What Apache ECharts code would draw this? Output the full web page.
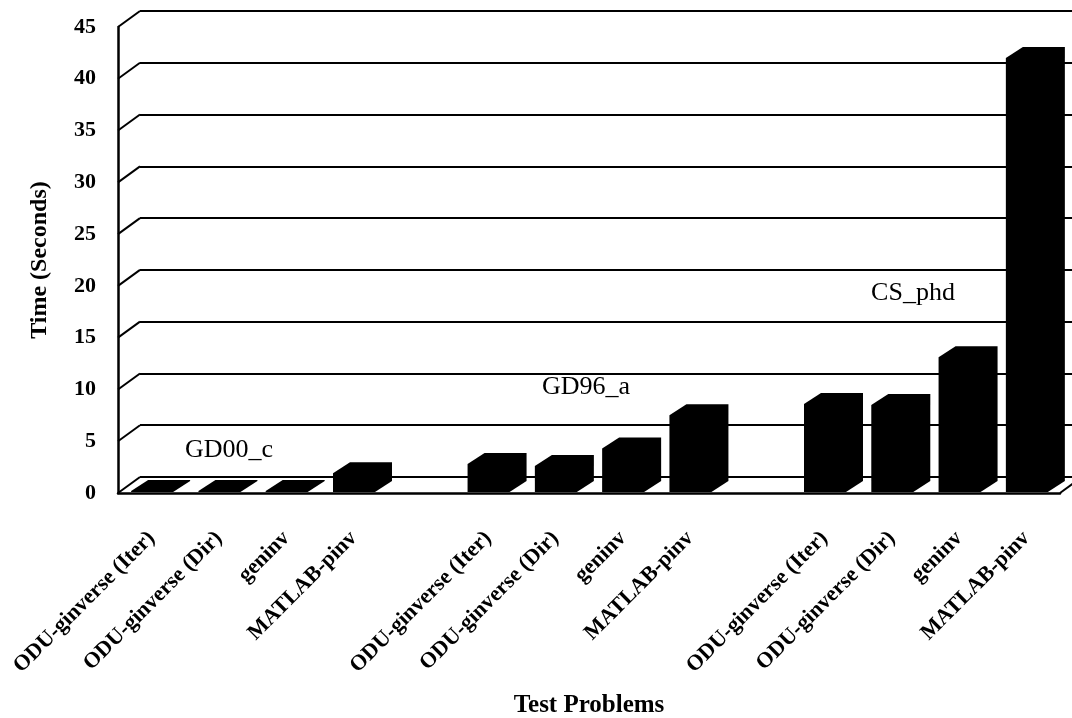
<!DOCTYPE html>
<html>
<head>
<meta charset="utf-8">
<title>Test Problems - Time (Seconds)</title>
<script src="https://cdn.jsdelivr.net/npm/echarts@6/dist/echarts.min.js"></script>
<style>
  html, body { margin: 0; padding: 0; background: #fff; }
  #chart { width: 1072px; height: 718px; }
</style>
</head>
<body>
<div id="chart"></div>
<script>
// Methods compared on each test problem
const methods = ['ODU-ginverse (Iter)', 'ODU-ginverse (Dir)', 'geninv', 'MATLAB-pinv'];
// Test problems, in plotting order
const problems = ['GD00_c', 'GD96_a', 'CS_phd'];
// Run times in seconds, one value per method
const timeGD00c = [0.2, 0.2, 0.2, 1.9];
const timeGD96a = [2.8, 2.6, 4.3, 7.5];
const timeCSphd = [8.6, 8.5, 13.1, 42.0];
// Value axis ticks
const yTicks = [0, 5, 10, 15, 20, 25, 30, 35, 40, 45];

const groups = [timeGD00c, timeGD96a, timeCSphd];

// Category slots: four methods per problem, one empty slot between problems
const categories = [];
const barData = [];
groups.forEach((g, gi) => {
  if (gi > 0) categories.push('');
  g.forEach((v, mi) => {
    barData.push([categories.length, v]);
    categories.push(methods[mi]);
  });
});

// Pseudo-3D geometry (pixels)
const WALL_DX = 22, WALL_DY = -16;    // depth of the back wall
const BAR_SHIFT = 9;                   // bars sit a little behind the front plane
const BAR_FRONT = 42;                  // width of a column's front face
const BAR_DX = 17, BAR_DY = -11;       // column depth

const FRONT = { left: 118, top: 27, width: 942, height: 466 };
const BACK = {
  left: FRONT.left + WALL_DX, top: FRONT.top + WALL_DY,
  width: FRONT.width, height: FRONT.height
};

const serif = '"Liberation Serif", "DejaVu Serif", serif';

// Problem name captions, placed over each group of columns
const captions = [
  { text: problems[0], x: 229, y: 450 },
  { text: problems[1], x: 586, y: 387 },
  { text: problems[2], x: 913, y: 293 }
];

const chart = echarts.init(document.getElementById('chart'), null, { renderer: 'canvas' });

chart.setOption({
  backgroundColor: '#fff',
  animation: false,
  textStyle: { fontFamily: serif, color: '#000' },
  grid: [
    Object.assign({ containLabel: false, outerBoundsMode: 'none' }, FRONT),
    Object.assign({ containLabel: false, outerBoundsMode: 'none' }, BACK)
  ],
  xAxis: [
    {
      type: 'category', gridIndex: 0, data: categories,
      axisLine: { show: true, lineStyle: { color: '#000', width: 2.5 } },
      axisTick: { show: false },
      axisLabel: {
        interval: 0, rotate: 45, margin: 42,
        fontFamily: serif, fontWeight: 'bold', fontSize: 22, color: '#000'
      },
      name: 'Test Problems', nameLocation: 'middle', nameGap: 200,
      nameTextStyle: { fontFamily: serif, fontWeight: 'bold', fontSize: 25, color: '#000' },
      splitLine: { show: false }
    },
    {
      type: 'category', gridIndex: 1, data: categories, show: false
    }
  ],
  yAxis: [
    {
      type: 'value', gridIndex: 0, min: 0, max: 45, interval: 5,
      axisLine: { show: true, lineStyle: { color: '#000', width: 2.5 } },
      axisTick: { show: false },
      axisLabel: {
        margin: 22, fontFamily: serif, fontWeight: 'bold', fontSize: 22, color: '#000'
      },
      splitLine: { show: false },
      name: 'Time (Seconds)', nameLocation: 'middle', nameGap: 66, nameRotate: 90,
      nameTextStyle: { fontFamily: serif, fontWeight: 'bold', fontSize: 24, color: '#000' }
    },
    {
      type: 'value', gridIndex: 1, min: 0, max: 45, interval: 5,
      axisLine: { show: false }, axisTick: { show: false }, axisLabel: { show: false },
      splitLine: { show: true, lineStyle: { color: '#000', width: 2 } }
    }
  ],
  series: [
    {
      // connectors from the front value axis to the back wall gridlines
      type: 'custom', xAxisIndex: 0, yAxisIndex: 0, clip: false, silent: true, z: 3,
      data: yTicks.map(v => [0, v]),
      renderItem: function (params, api) {
        const cs = params.coordSys;
        const v = api.value(1);
        const y = api.coord([0, v])[1];
        const children = [{
          type: 'line',
          shape: { x1: cs.x, y1: y, x2: cs.x + WALL_DX, y2: y + WALL_DY },
          style: { stroke: '#000', lineWidth: 2 }
        }];
        if (v === 0) {
          children.push({
            type: 'line',
            shape: { x1: cs.x + cs.width, y1: y, x2: cs.x + cs.width + WALL_DX, y2: y + WALL_DY },
            style: { stroke: '#000', lineWidth: 2 }
          });
        }
        return { type: 'group', children: children };
      }
    },
    {
      // solid black columns: front face, top and right side in one outline
      type: 'custom', xAxisIndex: 0, yAxisIndex: 0, clip: false, z: 4,
      data: barData,
      renderItem: function (params, api) {
        const i = api.value(0), v = api.value(1);
        const top = api.coord([i, v]);
        const base = api.coord([i, 0]);
        const cx = top[0] + BAR_SHIFT;
        const L = cx - (BAR_FRONT + BAR_DX) / 2;
        const R = L + BAR_FRONT;
        const yb = base[1] - 1, yt = top[1];
        return {
          type: 'polygon',
          shape: {
            points: [
              [L, yb], [L, yt], [L + BAR_DX, yt + BAR_DY],
              [R + BAR_DX, yt + BAR_DY], [R + BAR_DX, yb + BAR_DY], [R, yb]
            ]
          },
          style: { fill: '#000' }
        };
      }
    }
  ],
  graphic: captions.map(c => ({
    type: 'text', x: c.x, y: c.y, z: 5,
    style: {
      text: c.text, fill: '#000', align: 'center', verticalAlign: 'middle',
      font: '26px ' + serif
    }
  }))
});
</script>
</body>
</html>
